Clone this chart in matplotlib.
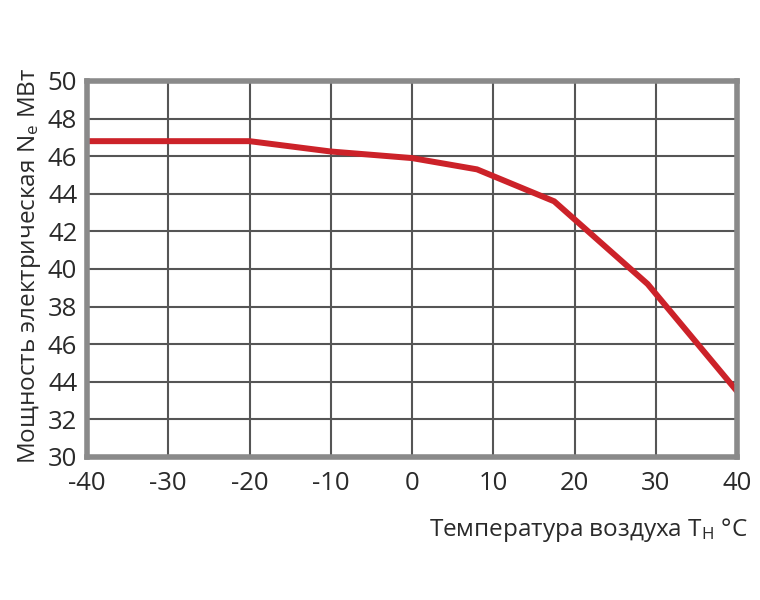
import matplotlib
matplotlib.use("Agg")
import matplotlib.pyplot as plt

plt.rcParams['font.family'] = ['Open Sans', 'DejaVu Sans']
plt.rcParams['mathtext.fontset'] = 'custom'
plt.rcParams['mathtext.rm'] = 'Open Sans'
plt.rcParams['mathtext.it'] = 'Open Sans'

# data
temps = [-40, -20, -10, 0, 8, 17.5, 29, 40]
power = [46.8, 46.8, 46.25, 45.9, 45.3, 43.6, 39.2, 33.5]
x_ticks = [-40, -30, -20, -10, 0, 10, 20, 30, 40]
x_labels = ['-40', '-30', '-20', '-10', '0', '10', '20', '30', '40']
y_ticks = [30, 32, 34, 36, 38, 40, 42, 44, 46, 48, 50]
y_labels = ['30', '32', '44', '46', '38', '40', '42', '44', '46', '48', '50']

fig = plt.figure(figsize=(7.6, 6), dpi=100)
ax = fig.add_axes([87/760, 1-457/600, (737-87)/760, (457-81)/600])

ax.plot(temps, power, color='#cc2229', lw=4.3, solid_joinstyle='miter', zorder=3, clip_on=True)

ax.set_xlim(-40, 40)
ax.set_ylim(30, 50)
ax.set_xticks(x_ticks)
ax.set_xticklabels(x_labels)
ax.set_yticks(y_ticks)
ax.set_yticklabels(y_labels)
ax.grid(True, color='#555555', lw=1.5)
ax.set_axisbelow(True)
ax.tick_params(length=0, labelsize=18.5, colors='#2a2a2a', pad=7)
ax.tick_params(axis='x', pad=10)
for s in ax.spines.values():
    s.set_color('#8a8a8a')
    s.set_linewidth(4)
    s.set_zorder(4)

fig.text(30/760, 1-266/600, 'Мощность электрическая N$_\\mathregular{e}$ МВт',
         rotation=90, ha='center', va='center', fontsize=17.5, color='#2a2a2a')
fig.text(748/760, 1-530/600, 'Температура воздуха T$_\\mathregular{H}$ °C',
         ha='right', va='center', fontsize=17.5, color='#2a2a2a')

fig.savefig('out.png', dpi=100, facecolor='white')
